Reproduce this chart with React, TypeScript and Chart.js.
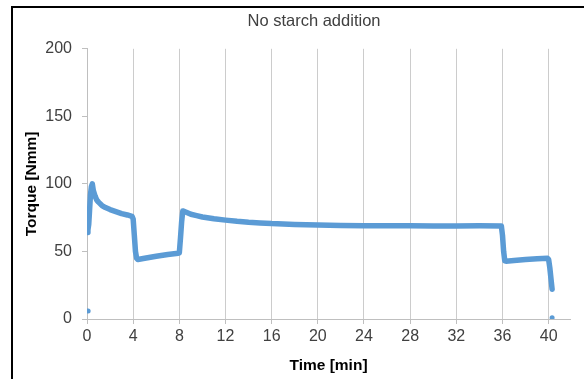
import React, { useEffect, useRef } from 'react';
import { Chart, registerables } from 'chart.js';

Chart.register(...registerables);

// Main torque trace (time in minutes, torque in Nmm)
const time = [
  0.03, 0.08, 0.15, 0.22, 0.3, 0.38, 0.46, 0.55, 0.7, 0.85, 1.0, 1.3, 1.6, 2.0, 2.5, 3.0, 3.5, 3.9,
  4.0, 4.1, 4.2, 4.3, 4.4, 5.0, 6.0, 7.0, 7.9,
  8.0, 8.1, 8.2, 8.3, 8.6, 9.0, 9.5, 10, 11, 12, 13, 14, 15, 16, 18, 20, 22, 24, 26, 28, 30, 32, 34, 35.9,
  36.0, 36.1, 36.2, 36.3, 37, 38, 39, 39.9,
  40.0, 40.1, 40.2, 40.3,
];
const torque = [
  64, 66, 70, 80, 92, 98, 100, 95, 91, 88, 86.5, 84, 82.5, 81, 79.5, 78, 77, 76,
  74, 62, 50, 45, 44, 45, 46.5, 47.8, 48.7,
  49, 60, 72, 80, 79, 77.5, 76.5, 75.5, 74.2, 73.2, 72.3, 71.6, 71.1, 70.6, 70, 69.5, 69.3, 69.1, 69, 69, 68.9, 68.9, 69, 68.9,
  62, 50, 43, 42.8, 43.3, 44, 44.6, 45,
  44, 38, 30, 22,
];

// Isolated points
const strayTime = [0.1, 40.3];
const strayTorque = [6, 1];

const titleText = 'No starch addition';
const xTitle = 'Time [min]';
const yTitle = 'Torque [Nmm]';
const xMin = 0;
const xMax = 41.85;
const xStep = 4;
const yMin = 0;
const yMax = 200;
const yStep = 50;

const BLUE = '#5B9BD5';
const FONT = "'Liberation Sans', Arial, sans-serif";

export default function App() {
  const ref = useRef<HTMLCanvasElement | null>(null);

  useEffect(() => {
    document.body.style.margin = '0';
    const canvas = ref.current;
    if (!canvas) return;
    Chart.defaults.font.family = FONT;
    const chart = new Chart(canvas, {
      type: 'line',
      data: {
        datasets: [
          {
            data: time.map((t, i) => ({ x: t, y: torque[i] })),
            borderColor: BLUE,
            backgroundColor: BLUE,
            borderWidth: 5.5,
            pointRadius: 0,
            borderJoinStyle: 'round',
            borderCapStyle: 'round',
            tension: 0,
          },
          {
            data: strayTime.map((t, i) => ({ x: t, y: strayTorque[i] })),
            showLine: false,
            pointRadius: 2.5,
            pointBorderWidth: 0,
            pointBackgroundColor: BLUE,
            borderColor: BLUE,
          },
        ],
      },
      options: {
        animation: false,
        responsive: false,
        maintainAspectRatio: false,
        layout: { padding: 0 },
        plugins: {
          legend: { display: false },
          tooltip: { enabled: false },
          title: {
            display: true,
            text: titleText,
            color: '#404040',
            font: { size: 16.5, weight: 'normal', family: FONT },
            padding: { top: 12, bottom: 17 },
          },
        },
        scales: {
          x: {
            type: 'linear',
            min: xMin,
            max: xMax,
            ticks: {
              stepSize: xStep,
              includeBounds: false,
              padding: 3,
              maxRotation: 0,
              autoSkip: false,
              color: '#404040',
              font: { size: 16, family: FONT },
            },
            grid: {
              color: '#CCCCCC',
              lineWidth: 1,
              drawTicks: true,
              tickLength: 5,
              tickColor: '#BFBFBF',
            },
            border: { display: true, color: '#BFBFBF', width: 1 },
            title: {
              display: true,
              text: xTitle,
              color: '#000',
              font: { size: 15.5, weight: 'bold', family: FONT },
              padding: { top: 0, bottom: 4 },
            },
            afterFit: (s: any) => {
              s.height = 60;
            },
          },
          y: {
            min: yMin,
            max: yMax,
            ticks: {
              stepSize: yStep,
              padding: 10,
              color: '#404040',
              font: { size: 16, family: FONT },
            },
            grid: {
              display: true,
              drawOnChartArea: false,
              drawTicks: true,
              tickLength: 5,
              tickColor: '#BFBFBF',
              color: '#BFBFBF',
            },
            border: { display: true, color: '#BFBFBF', width: 1 },
            title: {
              display: true,
              text: yTitle,
              color: '#000',
              font: { size: 15.5, weight: 'bold', family: FONT },
              padding: { top: 22, bottom: 0 },
            },
            afterFit: (s: any) => {
              s.width = 87;
            },
          },
          yRight: {
            position: 'right',
            display: true,
            min: yMin,
            max: yMax,
            ticks: { display: false },
            grid: { display: false },
            border: { display: false },
            title: { display: false },
            afterFit: (s: any) => {
              s.width = 58;
            },
          },
        },
      },
    });
    return () => chart.destroy();
  }, []);

  return (
    <div
      style={{
        position: 'fixed',
        left: 0,
        top: 0,
        width: 584,
        height: 379,
        overflow: 'hidden',
        background: '#fff',
      }}
    >
      <canvas ref={ref} width={628} height={379} style={{ position: 'absolute', left: 0, top: 0, width: 628, height: 379 }} />
      <div
        style={{
          position: 'absolute',
          left: 11,
          top: 6,
          width: 700,
          height: 500,
          border: '2px solid #000',
          pointerEvents: 'none',
        }}
      />
    </div>
  );
}
